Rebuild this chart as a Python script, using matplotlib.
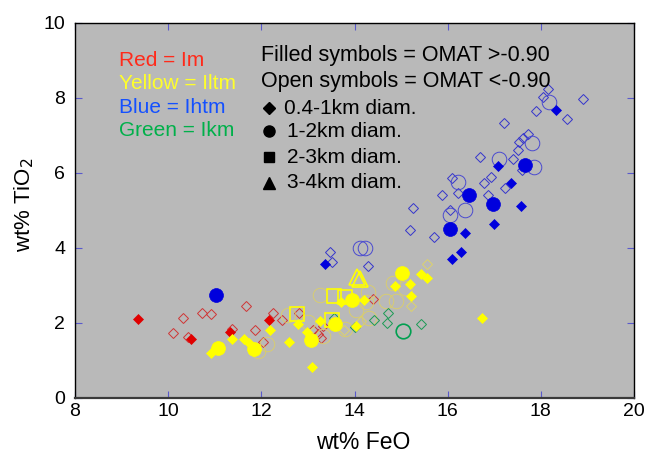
import matplotlib
matplotlib.use('Agg')
import matplotlib.pyplot as plt

plt.rcParams['font.family'] = ['Liberation Sans', 'DejaVu Sans']

# Im (red)
im_small_filled = [(9.36, 2.10), (10.50, 1.55), (11.32, 1.75), (12.17, 2.07)]
im_small_open = [(10.11, 1.73), (10.31, 2.12), (10.73, 2.26), (10.92, 2.23), (10.42, 1.62),
                 (11.38, 1.83), (11.68, 2.43), (11.87, 1.79), (12.03, 1.49), (12.24, 2.26),
                 (12.45, 2.07), (12.80, 2.25), (13.11, 1.79), (13.22, 1.70), (13.29, 1.60),
                 (13.32, 1.90), (14.40, 2.63)]

# Iltm (yellow)
iltm_small_filled = [(10.93, 1.19), (11.37, 1.57), (11.62, 1.57), (11.73, 1.45), (12.19, 1.80),
                     (12.60, 1.49), (12.78, 1.95), (12.99, 1.75), (13.08, 0.82), (13.27, 2.03),
                     (13.70, 2.55), (14.20, 2.60), (14.03, 1.90), (14.86, 2.97), (15.19, 3.03),
                     (15.21, 2.71), (15.42, 3.30), (15.55, 3.18), (16.74, 2.11)]
iltm_small_open = [(15.55, 3.57), (15.22, 2.45), (13.78, 1.80), (14.15, 2.05)]
iltm_mid_filled = [(11.07, 1.32), (11.84, 1.30), (13.06, 1.53), (13.58, 1.96), (13.95, 2.61),
                   (15.03, 3.32)]
iltm_mid_open = [(11.93, 1.24), (12.12, 1.43), (13.00, 2.02), (13.27, 2.73), (13.33, 1.63),
                 (13.80, 1.82), (14.03, 2.33), (14.30, 2.82), (14.24, 2.55), (14.68, 2.57),
                 (14.90, 2.57), (14.83, 3.06), (15.08, 2.93), (12.57, 2.19), (14.32, 2.11)]
iltm_large_open = [(12.77, 2.24), (13.55, 2.70), (13.80, 2.67), (13.52, 2.08)]
iltm_xl_open = [(14.05, 3.22), (14.12, 3.15)]

# Ikm (green)
ikm_small_open = [(13.57, 2.13), (14.01, 1.87), (14.42, 2.08), (14.72, 2.26), (14.70, 1.99),
                  (15.43, 1.95)]
ikm_mid_open = [(15.05, 1.77)]

# Ihtm (blue)
ihtm_small_filled = [(13.37, 3.56), (16.10, 3.69), (16.29, 3.87), (16.38, 4.38), (17.00, 4.64),
                     (17.58, 5.10), (17.37, 5.73), (17.07, 6.17), (18.33, 7.66)]
ihtm_small_open = [(13.48, 3.88), (13.52, 3.62), (14.30, 3.52), (15.20, 4.47), (15.26, 5.05),
                   (15.70, 4.28), (15.88, 5.40), (16.06, 5.00), (16.10, 5.86), (16.23, 5.44),
                   (16.70, 6.42), (16.78, 5.71), (16.93, 5.88), (16.87, 5.39), (17.22, 7.32),
                   (17.23, 5.58), (17.41, 6.35), (17.52, 6.60), (17.53, 6.82), (17.62, 6.93),
                   (17.60, 6.06), (17.73, 7.04), (17.90, 7.64), (18.04, 8.02), (18.15, 8.22),
                   (18.56, 7.42), (18.90, 7.95)]
ihtm_mid_filled = [(11.03, 2.73), (16.06, 4.48), (16.46, 5.40), (16.98, 5.16), (17.66, 6.20)]
ihtm_mid_open = [(14.12, 3.98), (14.22, 3.98), (16.04, 4.86), (16.37, 5.00), (16.23, 5.75),
                 (17.10, 6.35), (17.82, 6.80), (17.85, 6.16), (18.17, 7.88)]

x_ticks = [8, 10, 12, 14, 16, 18, 20]
y_ticks = [0, 2, 4, 6, 8, 10]

RED, YELLOW, BLUE, GREEN = '#e00000', '#ffff00', '#0000dd', '#00a050'


def draw(ax, pts, marker, ms, face, edge, lw=0.0, z=3):
    xs = [p[0] for p in pts]
    ys = [p[1] for p in pts]
    ax.plot(xs, ys, linestyle='none', marker=marker, ms=ms, mfc=face,
            mec=edge, mew=lw, zorder=z)


fig = plt.figure(figsize=(6.52, 4.53), dpi=100)
ax = fig.add_axes([75 / 652, 1 - 397.5 / 453, 559 / 652, 375 / 453])
ax.set_facecolor('#b9b9b9')

# open symbols underneath
draw(ax, im_small_open, 'D', 5, 'none', '#d03535', 0.7, 2)
draw(ax, iltm_small_open, 'D', 5, 'none', '#e2d660', 0.6, 2)
draw(ax, iltm_mid_open, 'o', 10.5, 'none', '#dccf66', 0.6, 2)
draw(ax, ikm_small_open, 'D', 5, 'none', '#1a9a55', 0.7, 2)
draw(ax, ihtm_small_open, 'D', 5, 'none', '#3535cc', 0.7, 2)
draw(ax, ihtm_mid_open, 'o', 10.5, 'none', '#4a4ad0', 0.7, 2)
draw(ax, iltm_large_open, 's', 10.5, 'none', YELLOW, 1.2, 4)
draw(ax, iltm_xl_open, '^', 12, 'none', YELLOW, 1.2, 4)
draw(ax, ikm_mid_open, 'o', 10.5, 'none', GREEN, 1.2, 4)

# filled symbols
draw(ax, im_small_filled, 'D', 5, RED, RED, 0.5, 3)
draw(ax, iltm_small_filled, 'D', 5, YELLOW, YELLOW, 0.5, 3)
draw(ax, iltm_mid_filled, 'o', 10, YELLOW, YELLOW, 0.5, 3)
draw(ax, ihtm_small_filled, 'D', 5, BLUE, BLUE, 0.5, 3)
draw(ax, ihtm_mid_filled, 'o', 10, BLUE, BLUE, 0.5, 3)

ax.set_xlim(8, 20)
ax.set_ylim(0, 10)
ax.set_xticks(x_ticks)
ax.set_yticks(y_ticks)
ax.tick_params(direction='in', length=5, width=0.8, color='#5a5acc',
               top=True, right=True, labelsize=14)
ax.tick_params(axis='x', pad=4)
ax.tick_params(axis='y', pad=7)
for side in ['left', 'top', 'right']:
    ax.spines[side].set_color('black')
    ax.spines[side].set_linewidth(1.0)
ax.spines['bottom'].set_color('#3a3a3a')
ax.spines['bottom'].set_linewidth(1.6)

ax.set_xlabel('wt% FeO', fontsize=16.5)
ax.set_ylabel('wt% TiO$_2$', fontsize=16)
ax.xaxis.set_label_coords(0.515, -0.09)
ax.yaxis.set_label_coords(-0.07, 0.515)

# colour key
colour_key = [('Red = Im', '#ff2a1a'), ('Yellow = Iltm', '#ffff2a'),
              ('Blue = Ihtm', '#1450ff'), ('Green = Ikm', '#00b04a')]
for i, (txt, col) in enumerate(colour_key):
    ax.text(0.078, 0.898 - i * 0.0617, txt, color=col, fontsize=15,
            transform=ax.transAxes, va='center', ha='left')

# symbol key
ax.text(0.333, 0.913, 'Filled symbols = OMAT >-0.90', fontsize=15.5,
        transform=ax.transAxes, va='center', ha='left')
ax.text(0.333, 0.843, 'Open symbols = OMAT <-0.90', fontsize=15.5,
        transform=ax.transAxes, va='center', ha='left')
size_key = [('D', 6, '0.4-1km diam.', 0.373), ('o', 8, '1-2km diam.', 0.379),
            ('s', 7.5, '2-3km diam.', 0.379), ('^', 9, '3-4km diam.', 0.379)]
key_y = [0.772, 0.710, 0.641, 0.573]
for (mk, ms, txt, tx), ky in zip(size_key, key_y):
    ax.plot([0.347], [ky], marker=mk, ms=ms, color='black', linestyle='none',
            transform=ax.transAxes, clip_on=False)
    ax.text(tx, ky, txt, fontsize=15, transform=ax.transAxes, va='center', ha='left')

fig.savefig('out.png', dpi=100)
plt.close(fig)
